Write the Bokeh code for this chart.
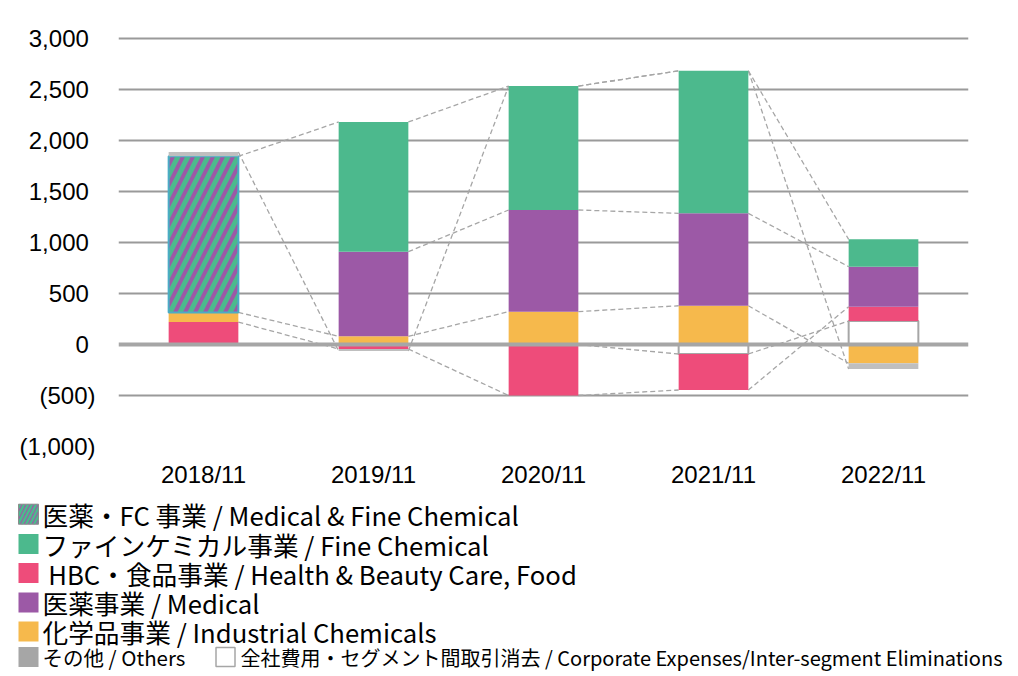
from bokeh.plotting import figure
from bokeh.models import FactorRange, Range1d, FixedTicker, Span, ColumnDataSource
from bokeh.transform import dodge
from bokeh.core.properties import value
from bokeh.embed import file_html
from bokeh.resources import INLINE

# ---------------- data ----------------
categories = ["2018/11", "2019/11", "2020/11", "2021/11", "2022/11"]
corporate = [0, 0, 0, -93, 230]          # 全社費用・セグメント間取引消去
hbc_food = [220, -44, -500, -353, 141]   # HBC・食品事業
industrial = [95, 80, 322, 380, -184]    # 化学品事業
medical_fc = [1530, None, None, None, None]  # 医薬・FC 事業
medical = [None, 830, 997, 906, 392]     # 医薬事業
fine_chem = [0, 1272, 1215, 1398, 268]   # ファインケミカル事業
others = [42, -20, 0, 0, -56]            # その他

y_ticks = [-1000, -500, 0, 500, 1000, 1500, 2000, 2500, 3000]

legend_labels = [
    "医薬・FC 事業 / Medical & Fine Chemical",
    "ファインケミカル事業 / Fine Chemical",
    "\u00a0HBC・食品事業 / Health & Beauty Care, Food",
    "医薬事業 / Medical",
    "化学品事業 / Industrial Chemicals",
]
legend_others_label = "その他 / Others"
legend_corp_label = "全社費用・セグメント間取引消去 / Corporate Expenses/Inter-segment Eliminations"

# ---------------- styles ----------------
GREEN = "#4CB98D"
PURPLE = "#9C59A6"
PINK = "#EE4C7A"
YELLOW = "#F6B94C"
GREY_BAR = "#BFBFBF"
GREY_LEG = "#A6A6A6"
LINE_GREY = "#A6A6A6"

series = [
    ("corp", corporate, dict(fill_color="white", line_color="#A6A6A6", line_width=2)),
    ("hbc", hbc_food, dict(fill_color=PINK, line_color=None)),
    ("ind", industrial, dict(fill_color=YELLOW, line_color=None)),
    ("medfc", medical_fc, dict(fill_color=PURPLE, hatch_pattern="/", hatch_color=GREEN,
                               hatch_weight=5, hatch_scale=20, line_color="#4BACC6", line_width=2)),
    ("med", medical, dict(fill_color=PURPLE, line_color=None)),
    ("fine", fine_chem, dict(fill_color=GREEN, line_color=None)),
    ("oth", others, dict(fill_color=GREY_BAR, line_color=None)),
]

BAR_W = 0.41
W = 1016
H_MAIN = 490
H_LEG = 182

p = figure(width=W, height=H_MAIN, x_range=FactorRange(*categories),
           y_range=Range1d(-1000, 3030), output_backend="svg", toolbar_location=None,
           min_border_left=118, min_border_right=48, min_border_top=35, min_border_bottom=44)
p.outline_line_color = None
p.xgrid.grid_line_color = None
p.ygrid.ticker = FixedTicker(ticks=[t for t in y_ticks if t not in (-1000, 0)])
p.ygrid.grid_line_color = "#9A9A9A"
p.ygrid.grid_line_width = 2

p.yaxis.ticker = FixedTicker(ticks=y_ticks)
p.yaxis.major_label_overrides = {
    t: (f"({abs(t):,})" if t < 0 else f"{t:,}\u00a0") for t in y_ticks
}
for ax in (p.xaxis[0], p.yaxis[0]):
    ax.axis_line_color = None
    ax.major_tick_line_color = None
    ax.minor_tick_line_color = None
    ax.major_tick_out = 0
    ax.major_tick_in = 0
    ax.major_label_text_font = "Liberation Sans"
    ax.major_label_text_font_size = "24px"
    ax.major_label_text_color = "black"
p.yaxis.major_label_standoff = 23
p.xaxis.major_label_standoff = 14

# stacking
n = len(categories)
pos_base = [0.0] * n
neg_base = [0.0] * n
ends = {}
bars = {}
for key, vals, style in series:
    xs, bots, tops, e = [], [], [], []
    for i, v in enumerate(vals):
        if v is None:
            e.append(None)
            continue
        if v >= 0:
            b, t = pos_base[i], pos_base[i] + v
            pos_base[i] = t
            e.append(t)
        else:
            t, b = neg_base[i], neg_base[i] + v
            neg_base[i] = b
            e.append(b)
        if v != 0:
            xs.append(categories[i]); bots.append(b); tops.append(t)
    ends[key] = e
    bars[key] = (xs, bots, tops, style)

# series lines (behind bars)
c0, c1, y0, y1 = [], [], [], []
for key, vals, style in series:
    e = ends[key]
    for i in range(n - 1):
        if e[i] is not None and e[i + 1] is not None:
            c0.append(categories[i]); c1.append(categories[i + 1])
            y0.append(e[i]); y1.append(e[i + 1])
src_l = ColumnDataSource(dict(c0=c0, c1=c1, y0=y0, y1=y1))
p.segment(x0=dodge("c0", BAR_W / 2, range=p.x_range), y0="y0",
          x1=dodge("c1", -BAR_W / 2, range=p.x_range), y1="y1",
          source=src_l, line_color=LINE_GREY, line_width=1.3, line_dash="5 3")

for key, vals, style in series:
    xs, bots, tops, st = bars[key]
    if not xs:
        continue
    src = ColumnDataSource(dict(x=xs, bottom=bots, top=tops))
    p.vbar(x="x", bottom="bottom", top="top", width=BAR_W, source=src, **st)

p.add_layout(Span(location=0, dimension="width", line_color="#A6A6A6", line_width=4))

# ---------------- legend figure (pixel coordinates) ----------------
lg = figure(width=W, height=H_LEG, x_range=Range1d(0, W), y_range=Range1d(H_LEG, 0),
            output_backend="svg", toolbar_location=None,
            min_border_left=0, min_border_right=0, min_border_top=0, min_border_bottom=0)
lg.outline_line_color = None
lg.axis.visible = False
lg.grid.visible = False

row_y = [23.7, 53.5, 82.5, 112, 141, 166.5]
marker_styles = [
    dict(fill_color=PURPLE, hatch_pattern="/", hatch_color=GREEN, hatch_weight=2.5,
         hatch_scale=8, line_color="#8C8C8C", line_width=1),
    dict(fill_color=GREEN, line_color=None),
    dict(fill_color=PINK, line_color=None),
    dict(fill_color=PURPLE, line_color=None),
    dict(fill_color=YELLOW, line_color=None),
    dict(fill_color=GREY_LEG, line_color=None),
]
for y, st in zip(row_y, marker_styles):
    lg.rect(x=[28], y=[y], width=20, height=20, **st)
lg.text(x=[42] * 5, y=row_y[:5], text=legend_labels, text_font=value("Noto Sans CJK JP"),
        text_font_size="25.7px", text_baseline="middle", text_align="left", text_color="black")
lg.text(x=[42], y=[row_y[5]], text=[legend_others_label], text_font=value("Noto Sans CJK JP"),
        text_font_size="20.5px", text_baseline="middle", text_align="left", text_color="black")
lg.rect(x=[225], y=[row_y[5]], width=19, height=19, fill_color="white",
        line_color="#A6A6A6", line_width=1.5)
lg.text(x=[240], y=[row_y[5]], text=[legend_corp_label], text_font=value("Noto Sans CJK JP"),
        text_font_size="20px", text_baseline="middle", text_align="left", text_color="black")

open("out.html", "w").write(file_html([p, lg], INLINE))
